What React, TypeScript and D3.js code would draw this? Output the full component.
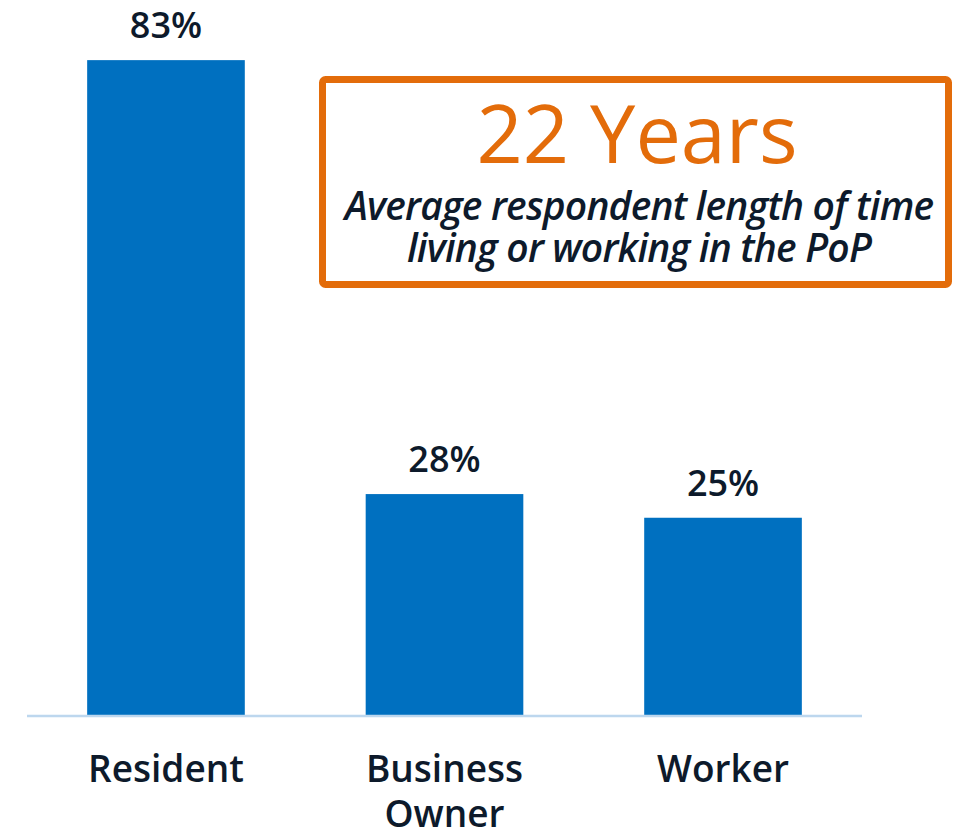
import * as d3 from 'd3';

const categories = ['Resident', 'Business Owner', 'Worker'];
const categoryLines = [['Resident'], ['Business', 'Owner'], ['Worker']];
const shares = [83, 28, 25];
const calloutValue = '22 Years';
const calloutLines = ['Average respondent length of time', 'living or working in the PoP'];

const width = 956;
const height = 835;
const baseY = 715;
const barColor = '#0070c0';
const textColor = '#0d1a2b';
const orange = '#e36c0a';
const font = '"Open Sans", "Noto Sans", sans-serif';

export default function App() {
    const x = d3.scaleBand(categories, [27, 862]).paddingInner(0.434).paddingOuter(0.216);
    const y = d3.scaleLinear([0, 100], [baseY, baseY - 789]);

    return (
        <svg width={width} height={height} style={{ position: 'absolute', left: 0, top: 0, background: '#fff' }}>
            <g>
                {shares.map((v, i) => (
                    <g key={categories[i]}>
                        <rect x={x(categories[i])} y={y(v)} width={x.bandwidth()} height={y(0) - y(v)} fill={barColor} />
                        <text
                            x={x(categories[i])! + x.bandwidth() / 2}
                            y={y(v) - 22}
                            textAnchor="middle"
                            fontFamily={font}
                            fontWeight={600}
                            fontSize={36}
                            fill={textColor}
                        >
                            {v}%
                        </text>
                    </g>
                ))}
            </g>
            <line x1={27} x2={862} y1={baseY + 1} y2={baseY + 1} stroke="#bdd7ee" strokeWidth={2.5} />
            <g fontFamily={font} fontWeight={600} fontSize={37} fill={textColor} textAnchor="middle">
                {categoryLines.map((lines, i) => (
                    <text key={categories[i]} x={x(categories[i])! + x.bandwidth() / 2} y={782}>
                        {lines.map((l, j) => (
                            <tspan key={l} x={x(categories[i])! + x.bandwidth() / 2} dy={j === 0 ? 0 : 45}>
                                {l}
                            </tspan>
                        ))}
                    </text>
                ))}
            </g>
            <rect x={322.5} y={79.5} width={626} height={205} rx={3} fill="none" stroke={orange} strokeWidth={7} />
            <text x={637} y={163} textAnchor="middle" fontFamily={font} fontWeight={500} fontSize={81} fill={orange}>
                {calloutValue}
            </text>
            <g fontFamily={font} fontWeight={600} fontStyle="italic" fontSize={39} letterSpacing={-0.8} fill={textColor} textAnchor="middle">
                {calloutLines.map((l, i) => (
                    <text key={l} x={639} y={220 + i * 42}>
                        {l}
                    </text>
                ))}
            </g>
        </svg>
    );
}
